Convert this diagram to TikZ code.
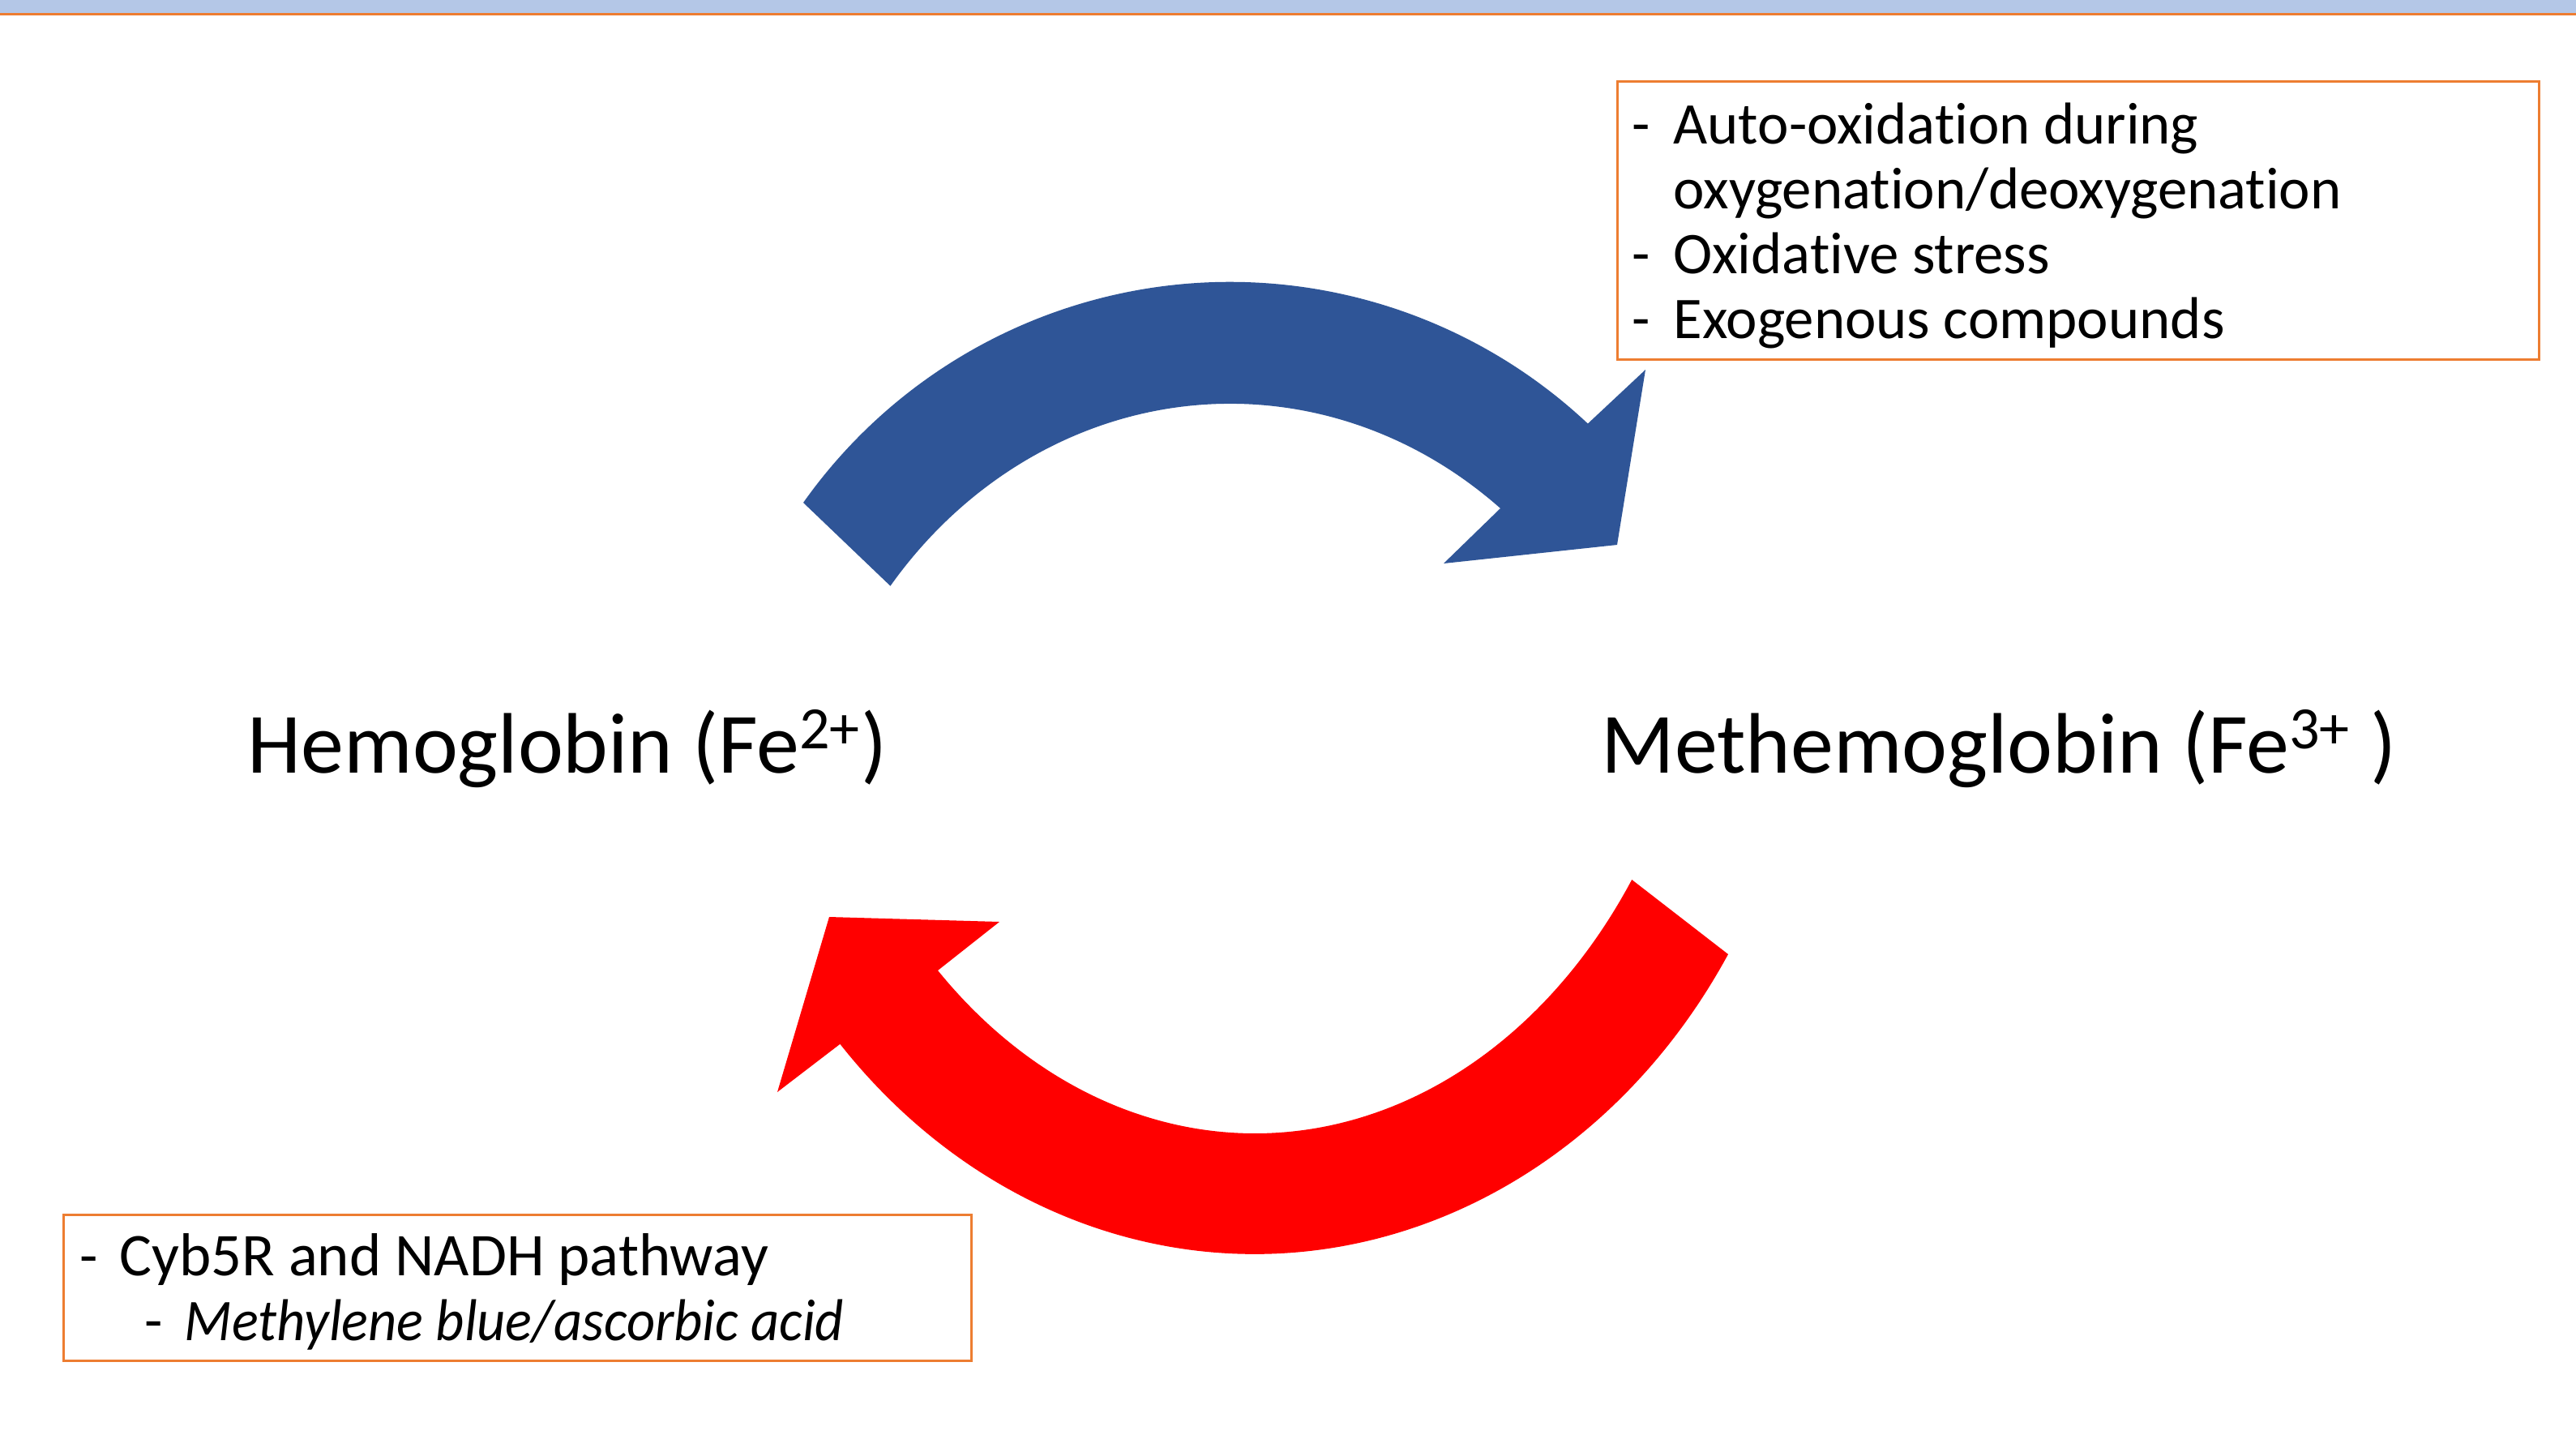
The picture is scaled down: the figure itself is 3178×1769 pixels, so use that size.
\documentclass[tikz,border=0pt]{standalone}
\usepackage{fontspec}
\setmainfont{Carlito}[Ligatures={TeX,NoCommon}]
\newfontface\narrowit{Carlito Italic}[FakeStretch=0.94, Ligatures=NoCommon]
\usepackage{tikz}
\definecolor{hbblue}{HTML}{2F5597}
\definecolor{hbred}{HTML}{FF0000}
\definecolor{boxorange}{HTML}{ED7D31}
\definecolor{bandblue}{HTML}{B4C7E7}
\tikzstyle{species} = [inner sep=0, anchor=base west, font=\fontsize{32pt}{38pt}\selectfont]
\tikzstyle{infobox} = [draw=boxorange, line width=0.85pt, inner sep=0, anchor=north west]
\tikzstyle{infotext} = [inner sep=0, anchor=base west, font=\fontsize{22pt}{24.2pt}\selectfont]

\begin{document}
\begin{tikzpicture}[x=0.3021pt, y=-0.3021pt]
\useasboundingbox (0,0) rectangle (3178,1769);
\fill[white] (0,0) rectangle (3178,1769);
\fill[bandblue] (0,0) rectangle (3178,16);
\fill[boxorange] (0,16) rectangle (3178,19);

\node[species] (hb) at (305,953) {Hemoglobin (Fe\textsuperscript{2+})};
\node[species] (methb) at (1975,953) {Methemoglobin (Fe\textsuperscript{3+} )};

\fill[hbblue] (991,620) arc[start angle=215.3, end angle=313.2, radius=645] -- (2030,456) -- (1995,672) -- (1781,695) -- (1851,627) arc[start angle=308.8, end angle=218, x radius=532, y radius=585] -- cycle;
\fill[hbred] (2132,1177) arc[start angle=31.6, end angle=138.2, x radius=686, y radius=777] -- (959,1347) -- (1023,1131) -- (1233,1137) -- (1157,1197) arc[start angle=134.2, end angle=34, x radius=561, y radius=710] -- cycle;

\node[infobox, minimum width=343.5pt, minimum height=103.6pt] (oxbox) at (1994,99) {};
\node[infotext] (oxlist) at (2013,177) {\begin{tabular}[t]{@{}p{15.4pt}@{}l@{}}
- & Auto-oxidation during\\
  & oxygenation/deoxygenation\\
- & Oxidative stress\\
- & Exogenous compounds
\end{tabular}};

\node[infobox, minimum width=338.4pt, minimum height=54.4pt] (redbox) at (77,1497) {};
\node[infotext] (redlist) at (98,1573) {\begin{tabular}[t]{@{}l@{}}
\makebox[14.8pt][l]{-}{\fontsize{22.6pt}{24.2pt}\selectfont Cyb5R and NADH pathway}\\
\hspace{24.2pt}\makebox[14.8pt][l]{-}{\narrowit Methylene blue/ascorbic acid}
\end{tabular}};
\end{tikzpicture}
\end{document}
